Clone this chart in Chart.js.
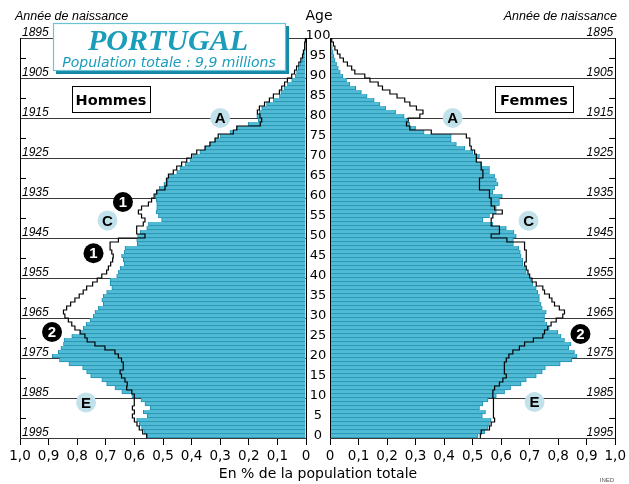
<!DOCTYPE html>
<html lang="fr">
<head>
<meta charset="utf-8">
<title>Portugal - pyramide des âges</title>
<script src="https://cdn.jsdelivr.net/npm/chart.js@4.4.1/dist/chart.umd.min.js"></script>
<style>
  html, body { margin: 0; padding: 0; background: #fff; }
  #wrap { position: relative; width: 629px; height: 484px; }
  #wrap canvas { position: absolute; left: 0; top: 0; }
</style>
</head>
<body>
<div id="wrap">
  <canvas id="hommes" width="629" height="484"></canvas>
  <canvas id="femmes" width="629" height="484"></canvas>
</div>
<script>
// --- Données : % de la population totale, par âge (0 à 99) ---
const ages = Array.from({ length: 100 }, (_, i) => i);

const hommes = [
  0.557, 0.565, 0.575, 0.583, 0.592, 0.555, 0.569, 0.545, 0.563, 0.577,
  0.609, 0.644, 0.668, 0.697, 0.714, 0.753, 0.767, 0.781, 0.829, 0.862,
  0.887, 0.866, 0.857, 0.848, 0.846, 0.819, 0.790, 0.779, 0.769, 0.755,
  0.744, 0.738, 0.726, 0.709, 0.714, 0.709, 0.697, 0.679, 0.685, 0.685,
  0.662, 0.656, 0.650, 0.636, 0.639, 0.645, 0.636, 0.633, 0.590, 0.592,
  0.589, 0.580, 0.557, 0.551, 0.505, 0.516, 0.524, 0.522, 0.522, 0.524,
  0.527, 0.522, 0.513, 0.497, 0.490, 0.481, 0.452, 0.441, 0.423, 0.406,
  0.396, 0.371, 0.353, 0.336, 0.318, 0.301, 0.266, 0.242, 0.202, 0.167,
  0.172, 0.163, 0.155, 0.138, 0.114, 0.093, 0.088, 0.077, 0.065, 0.050,
  0.038, 0.033, 0.027, 0.020, 0.015, 0.012, 0.009, 0.006, 0.004, 0.002
];
const femmes = [
  0.519, 0.542, 0.554, 0.559, 0.565, 0.534, 0.545, 0.524, 0.536, 0.554,
  0.583, 0.612, 0.633, 0.670, 0.688, 0.723, 0.744, 0.755, 0.807, 0.848,
  0.866, 0.857, 0.837, 0.845, 0.822, 0.810, 0.798, 0.769, 0.760, 0.752,
  0.752, 0.758, 0.744, 0.740, 0.734, 0.734, 0.728, 0.723, 0.711, 0.705,
  0.699, 0.688, 0.685, 0.676, 0.676, 0.670, 0.667, 0.662, 0.643, 0.643,
  0.653, 0.645, 0.618, 0.571, 0.536, 0.559, 0.583, 0.583, 0.594, 0.594,
  0.604, 0.571, 0.577, 0.589, 0.583, 0.577, 0.559, 0.559, 0.530, 0.513,
  0.524, 0.501, 0.472, 0.443, 0.425, 0.425, 0.330, 0.300, 0.280, 0.270,
  0.260, 0.230, 0.195, 0.175, 0.155, 0.130, 0.110, 0.090, 0.070, 0.058,
  0.045, 0.036, 0.029, 0.023, 0.018, 0.014, 0.011, 0.008, 0.005, 0.003
];
// contour : pyramide de l'Union européenne
const hommesUE = [
  0.557, 0.571, 0.583, 0.591, 0.600, 0.607, 0.600, 0.607, 0.600, 0.600,
  0.601, 0.609, 0.627, 0.625, 0.633, 0.645, 0.650, 0.639, 0.639, 0.645,
  0.656, 0.668, 0.703, 0.738, 0.765, 0.773, 0.790, 0.808, 0.819, 0.831,
  0.843, 0.848, 0.837, 0.823, 0.808, 0.793, 0.779, 0.767, 0.746, 0.730,
  0.714, 0.697, 0.691, 0.683, 0.676, 0.674, 0.679, 0.685, 0.685, 0.656,
  0.563, 0.592, 0.592, 0.569, 0.563, 0.575, 0.586, 0.575, 0.551, 0.540,
  0.531, 0.522, 0.493, 0.487, 0.487, 0.481, 0.464, 0.452, 0.435, 0.417,
  0.400, 0.382, 0.353, 0.336, 0.318, 0.307, 0.254, 0.242, 0.160, 0.155,
  0.161, 0.170, 0.163, 0.145, 0.128, 0.114, 0.093, 0.085, 0.075, 0.065,
  0.050, 0.040, 0.033, 0.025, 0.018, 0.012, 0.009, 0.006, 0.004, 0.002
];
const femmesUE = [
  0.527, 0.530, 0.559, 0.565, 0.577, 0.573, 0.573, 0.573, 0.573, 0.573,
  0.571, 0.571, 0.577, 0.594, 0.606, 0.618, 0.612, 0.612, 0.610, 0.618,
  0.627, 0.641, 0.664, 0.682, 0.713, 0.746, 0.752, 0.763, 0.775, 0.793,
  0.816, 0.822, 0.804, 0.787, 0.778, 0.769, 0.752, 0.746, 0.723, 0.708,
  0.700, 0.694, 0.688, 0.682, 0.688, 0.688, 0.688, 0.682, 0.682, 0.620,
  0.565, 0.594, 0.594, 0.565, 0.565, 0.571, 0.604, 0.577, 0.565, 0.565,
  0.559, 0.559, 0.524, 0.524, 0.524, 0.536, 0.536, 0.530, 0.530, 0.513,
  0.513, 0.507, 0.495, 0.490, 0.490, 0.478, 0.355, 0.280, 0.268, 0.274,
  0.315, 0.326, 0.303, 0.280, 0.262, 0.235, 0.210, 0.184, 0.169, 0.140,
  0.122, 0.087, 0.076, 0.061, 0.047, 0.035, 0.026, 0.017, 0.012, 0.006
];

const xTickLabels = ['0', '0,1', '0,2', '0,3', '0,4', '0,5', '0,6', '0,7', '0,8', '0,9', '1,0'];
const ageTicks = [0, 5, 10, 15, 20, 25, 30, 35, 40, 45, 50, 55, 60, 65, 70, 75, 80, 85, 90, 95, 100];
const anneeAges = [0, 10, 20, 30, 40, 50, 60, 70, 80, 90, 100];
const anneeLabels = ['1995', '1985', '1975', '1965', '1955', '1945', '1935', '1925', '1915', '1905', '1895'];

// repères (valeur, âge)
const reperesHommes = [
  { v: 0.30, age: 80, t: 'A' }, { v: 0.694, age: 54.4, t: 'C' }, { v: 0.769, age: 8.9, t: 'E' },
  { v: 0.64, age: 59, t: '1', noir: true }, { v: 0.743, age: 46.2, t: '1', noir: true },
  { v: 0.888, age: 26.5, t: '2', noir: true }
];
const reperesFemmes = [
  { v: 0.43, age: 80, t: 'A' }, { v: 0.696, age: 54.3, t: 'C' }, { v: 0.717, age: 9, t: 'E' },
  { v: 0.878, age: 26, t: '2', noir: true }
];

const BAR_FILL = '#52bad2';
const BAR_EDGE = '#1e8fb4';
const TEAL = '#1a9cbb';
const SANS = '"DejaVu Sans", sans-serif';
const ARIAL = '"Liberation Sans", Arial, sans-serif';

Chart.defaults.font.family = SANS;

const barPoints = (vals) => vals.map((v, a) => ({ x: v, y: ages[a] + 0.5 }));
const contour = (vals) => {
  const pts = [];
  vals.forEach((v, a) => { pts.push({ x: v, y: ages[a] }, { x: v, y: ages[a] + 1 }); });
  pts.push({ x: 0, y: 100 });
  return pts;
};

function circle(ctx, x, y, txt, noir) {
  ctx.beginPath();
  ctx.arc(x, y, 10, 0, Math.PI * 2);
  ctx.fillStyle = noir ? '#000' : '#c2e2eb';
  ctx.fill();
  ctx.fillStyle = noir ? '#fff' : '#000';
  ctx.font = 'bold 15px ' + ARIAL;
  ctx.textAlign = 'center';
  ctx.textBaseline = 'middle';
  ctx.fillText(txt, x, y + 1);
}

function labelBox(ctx, x, y, w, h, txt) {
  ctx.fillStyle = '#fff';
  ctx.fillRect(x, y, w, h);
  ctx.strokeStyle = '#000';
  ctx.lineWidth = 1;
  ctx.strokeRect(x + 0.5, y + 0.5, w, h);
  ctx.fillStyle = '#000';
  ctx.font = 'bold 14.5px ' + SANS;
  ctx.textAlign = 'center';
  ctx.textBaseline = 'alphabetic';
  ctx.fillText(txt, x + w / 2, y + 19);
}

// --- décor d'un demi-graphique ---
function decorPlugin(side) {
  return {
    id: 'decor_' + side,
    beforeDatasetsDraw(chart) {
      const { ctx, chartArea: ca, scales: { y } } = chart;
      ctx.save();
      ctx.strokeStyle = '#3a3a3a';
      ctx.lineWidth = 1;
      anneeAges.forEach(a => {
        const py = Math.round(y.getPixelForValue(a)) + 0.5;
        ctx.beginPath(); ctx.moveTo(ca.left, py); ctx.lineTo(ca.right, py); ctx.stroke();
      });
      ctx.strokeStyle = '#000';
      ageTicks.filter(a => a % 10 === 5).forEach(a => {
        const py = Math.round(y.getPixelForValue(a)) + 0.5;
        const x0 = side === 'left' ? ca.left : ca.right - 6;
        ctx.beginPath(); ctx.moveTo(x0, py); ctx.lineTo(x0 + 6, py); ctx.stroke();
      });
      ctx.restore();
    },
    afterDatasetsDraw(chart) {
      const { ctx, chartArea: ca, scales: { x, y } } = chart;
      ctx.save();
      ctx.strokeStyle = '#000';
      ctx.lineWidth = 1;
      [ca.left, ca.right].forEach(px => {
        ctx.beginPath(); ctx.moveTo(Math.round(px) + 0.5, ca.top); ctx.lineTo(Math.round(px) + 0.5, ca.bottom); ctx.stroke();
      });
      ctx.fillStyle = '#000';
      ctx.font = 'italic 12px ' + ARIAL;
      ctx.textBaseline = 'alphabetic';
      ctx.textAlign = side === 'left' ? 'left' : 'right';
      anneeAges.forEach((a, i) => {
        const py = y.getPixelForValue(a) - 2;
        ctx.fillText(anneeLabels[i], side === 'left' ? ca.left + 2 : ca.right - 2, py);
      });
      const reps = side === 'left' ? reperesHommes : reperesFemmes;
      reps.forEach(r => circle(ctx, x.getPixelForValue(r.v), y.getPixelForValue(r.age), r.t, r.noir));
      if (side === 'left') labelBox(ctx, 72, 86, 78, 26, 'Hommes');
      else labelBox(ctx, 495, 86, 78, 26, 'Femmes');
      ctx.restore();
    },
    afterDraw(chart) {
      if (side !== 'left') return;
      const { ctx, chartArea: ca, scales: { y } } = chart;
      ctx.save();
      // étiquettes d'âge au centre
      const cx = ca.right + 12;
      ctx.fillStyle = '#000';
      ctx.font = '13px ' + SANS;
      ctx.textAlign = 'center';
      ctx.textBaseline = 'alphabetic';
      ageTicks.forEach(a => ctx.fillText(String(a), cx, y.getPixelForValue(a) + 0.5));
      ctx.font = '14px ' + SANS;
      ctx.fillText('Age', cx + 1, 20);
      // en-têtes
      ctx.font = 'italic 12.5px ' + ARIAL;
      ctx.textAlign = 'left';
      ctx.fillText('Année de naissance', 15, 20);
      ctx.textAlign = 'right';
      ctx.fillText('Année de naissance', 617, 20);
      // titre de l'axe
      ctx.textAlign = 'center';
      ctx.font = '14px ' + SANS;
      ctx.fillText('En % de la population totale', cx, 478);
      ctx.font = '6px ' + ARIAL;
      ctx.fillStyle = '#555';
      ctx.fillText('INED', 607, 482);
      // cartouche PORTUGAL
      ctx.fillStyle = '#1589a8';
      ctx.fillRect(56, 26, 233, 48);
      ctx.fillStyle = '#fff';
      ctx.fillRect(53, 23, 233, 48);
      ctx.strokeStyle = '#6cc3d6';
      ctx.lineWidth = 1.2;
      ctx.strokeRect(53.5, 23.5, 232, 47);
      ctx.fillStyle = TEAL;
      ctx.font = 'italic bold 30px "Liberation Serif", "Times New Roman", serif';
      ctx.fillText('PORTUGAL', 168, 50);
      ctx.font = 'italic 14px ' + SANS;
      ctx.fillText('Population totale : 9,9 millions', 169, 67);
      ctx.restore();
    }
  };
}

function makePanel(id, vals, valsUE, side) {
  return new Chart(document.getElementById(id), {
    type: 'bar',
    data: {
      datasets: [
        {
          type: 'line', data: contour(valsUE), borderColor: '#000', borderWidth: 1.2,
          pointRadius: 0, fill: false, tension: 0, order: 0
        },
        {
          type: 'bar', data: barPoints(vals), backgroundColor: BAR_FILL, borderColor: BAR_EDGE,
          borderWidth: { top: 0, right: 1, bottom: 1, left: 1 },
          barPercentage: 1, categoryPercentage: 1, order: 1
        }
      ]
    },
    options: {
      indexAxis: 'y',
      responsive: false,
      animation: false,
      devicePixelRatio: 1,
      layout: {
        padding: side === 'left'
          ? { left: 20, right: 323, top: 38, bottom: 0 }
          : { left: 330, right: 13, top: 38, bottom: 0 }
      },
      plugins: { legend: { display: false }, tooltip: { enabled: false } },
      scales: {
        x: {
          type: 'linear', min: 0, max: 1, reverse: side === 'left',
          ticks: {
            stepSize: 0.1, autoSkip: false, maxRotation: 0, padding: 3, color: '#000',
            font: { size: 13.5 },
            callback: (v) => xTickLabels[Math.round(v * 10)]
          },
          grid: { drawOnChartArea: false, drawTicks: true, tickLength: 7, color: '#000' },
          border: { color: '#000' },
          afterFit: (s) => { s.height = 46; }
        },
        y: { type: 'linear', min: 0, max: 100, offset: false, display: false, grid: { offset: false } }
      }
    },
    plugins: [decorPlugin(side)]
  });
}

makePanel('hommes', hommes, hommesUE, 'left');
makePanel('femmes', femmes, femmesUE, 'right');
</script>
</body>
</html>
